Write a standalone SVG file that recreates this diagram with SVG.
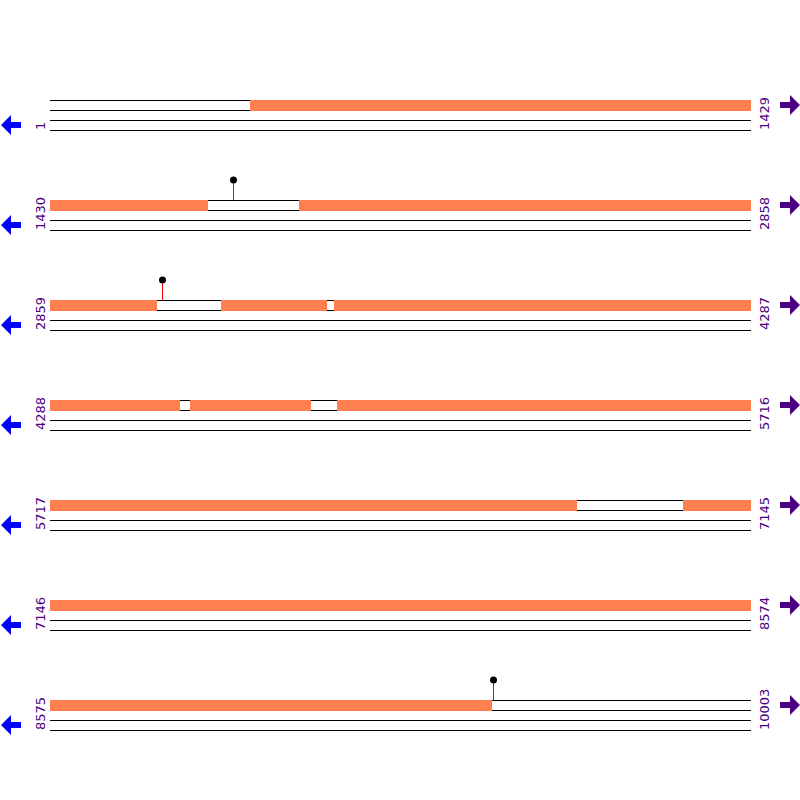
<svg xmlns="http://www.w3.org/2000/svg" width="800" height="800" viewBox="0 0 800 800">
<style>
.ln{stroke:#000;stroke-width:1}
.seg{fill:#FF7F50}
.lbl{font-family:"DejaVu Sans",sans-serif;font-size:13px;fill:#4B0082}
.la{fill:#0000FF}
.ra{fill:#4B0082}
.stick{stroke:#FF0000;stroke-width:1}
.dot{fill:#000}
</style>
<defs>
<g id="track">
<line class="ln" x1="50" y1="0.5" x2="751" y2="0.5"/>
<line class="ln" x1="50" y1="10.5" x2="751" y2="10.5"/>
<line class="ln" x1="50" y1="20.5" x2="751" y2="20.5"/>
<line class="ln" x1="50" y1="30.5" x2="751" y2="30.5"/>
</g>
<polygon id="larrow" points="1,0 11,-10 11,-3 21,-3 21,3 11,3 11,10"/>
<polygon id="rarrow" points="800,0 790,-10 790,-3 780,-3 780,3 790,3 790,10"/>
</defs>
<rect width="800" height="800" fill="#fff"/>

<g id="row1" transform="translate(0,100)">
<use href="#track"/>
<rect class="seg" x="250" y="0" width="501" height="11"/>
<use href="#larrow" class="la" transform="translate(0,25)"/>
<use href="#rarrow" class="ra" transform="translate(0,5)"/>
<text class="lbl" transform="translate(45,30) rotate(-90)">1</text>
<text class="lbl" transform="translate(769,30) rotate(-90)">1429</text>
</g>

<g id="row2" transform="translate(0,200)">
<use href="#track"/>
<rect class="seg" x="50" y="0" width="158" height="11"/>
<rect class="seg" x="299" y="0" width="452" height="11"/>
<line class="stick" x1="233.5" y1="-20" x2="233.5" y2="0"/>
<circle class="dot" cx="233.5" cy="-20" r="3.5"/>
<use href="#larrow" class="la" transform="translate(0,25)"/>
<use href="#rarrow" class="ra" transform="translate(0,5)"/>
<text class="lbl" transform="translate(45,30) rotate(-90)">1430</text>
<text class="lbl" transform="translate(769,30) rotate(-90)">2858</text>
</g>

<g id="row3" transform="translate(0,300)">
<use href="#track"/>
<rect class="seg" x="50" y="0" width="107" height="11"/>
<rect class="seg" x="221" y="0" width="106" height="11"/>
<rect class="seg" x="334" y="0" width="417" height="11"/>
<line class="stick" x1="162.5" y1="-20" x2="162.5" y2="0"/>
<circle class="dot" cx="162.5" cy="-20" r="3.5"/>
<use href="#larrow" class="la" transform="translate(0,25)"/>
<use href="#rarrow" class="ra" transform="translate(0,5)"/>
<text class="lbl" transform="translate(45,30) rotate(-90)">2859</text>
<text class="lbl" transform="translate(769,30) rotate(-90)">4287</text>
</g>

<g id="row4" transform="translate(0,400)">
<use href="#track"/>
<rect class="seg" x="50" y="0" width="130" height="11"/>
<rect class="seg" x="190" y="0" width="121" height="11"/>
<rect class="seg" x="337" y="0" width="414" height="11"/>
<use href="#larrow" class="la" transform="translate(0,25)"/>
<use href="#rarrow" class="ra" transform="translate(0,5)"/>
<text class="lbl" transform="translate(45,30) rotate(-90)">4288</text>
<text class="lbl" transform="translate(769,30) rotate(-90)">5716</text>
</g>

<g id="row5" transform="translate(0,500)">
<use href="#track"/>
<rect class="seg" x="50" y="0" width="527" height="11"/>
<rect class="seg" x="683" y="0" width="68" height="11"/>
<use href="#larrow" class="la" transform="translate(0,25)"/>
<use href="#rarrow" class="ra" transform="translate(0,5)"/>
<text class="lbl" transform="translate(45,30) rotate(-90)">5717</text>
<text class="lbl" transform="translate(769,30) rotate(-90)">7145</text>
</g>

<g id="row6" transform="translate(0,600)">
<use href="#track"/>
<rect class="seg" x="50" y="0" width="701" height="11"/>
<use href="#larrow" class="la" transform="translate(0,25)"/>
<use href="#rarrow" class="ra" transform="translate(0,5)"/>
<text class="lbl" transform="translate(45,30) rotate(-90)">7146</text>
<text class="lbl" transform="translate(769,30) rotate(-90)">8574</text>
</g>

<g id="row7" transform="translate(0,700)">
<use href="#track"/>
<rect class="seg" x="50" y="0" width="442" height="11"/>
<line class="stick" x1="493.5" y1="-20" x2="493.5" y2="0"/>
<circle class="dot" cx="493.5" cy="-20" r="3.5"/>
<use href="#larrow" class="la" transform="translate(0,25)"/>
<use href="#rarrow" class="ra" transform="translate(0,5)"/>
<text class="lbl" transform="translate(45,30) rotate(-90)">8575</text>
<text class="lbl" transform="translate(769,30) rotate(-90)">10003</text>
</g>
</svg>
